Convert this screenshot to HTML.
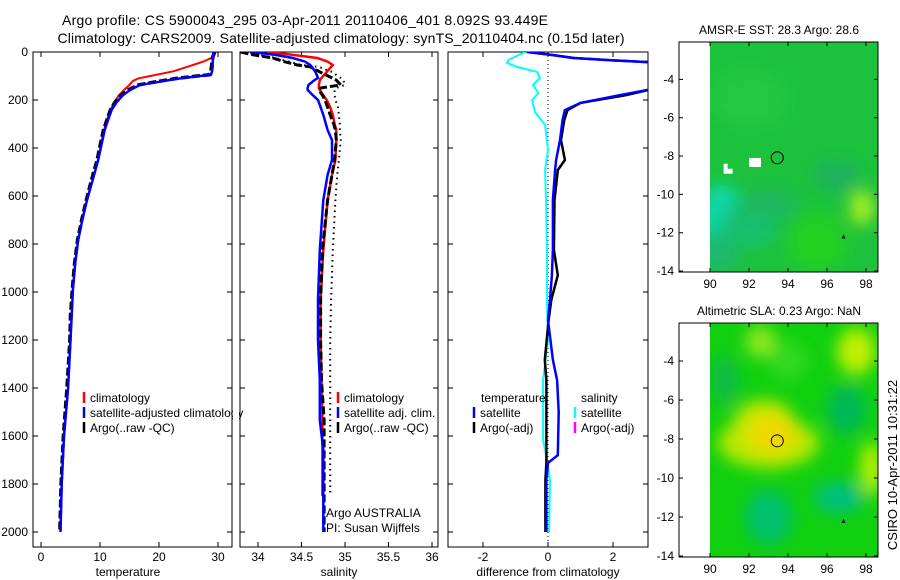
<!DOCTYPE html>
<html><head><meta charset="utf-8"><style>
html,body{margin:0;padding:0;background:#fff;}
svg{display:block;font-family:"Liberation Sans",sans-serif;}
text{fill:#000;}
</style></head><body>
<svg id="chart" width="900" height="580" viewBox="0 0 900 580" xmlns="http://www.w3.org/2000/svg">
<defs>
<clipPath id="c1"><rect x="33" y="52" width="199" height="495"/></clipPath>
<clipPath id="c2"><rect x="240" y="52" width="198" height="495"/></clipPath>
<clipPath id="c3"><rect x="448" y="52" width="200" height="495"/></clipPath>
<clipPath id="cm1"><rect x="710" y="42" width="168" height="230"/></clipPath>
<clipPath id="cm2"><rect x="710" y="323" width="168" height="234"/></clipPath>
<filter id="bl" x="-50%" y="-50%" width="200%" height="200%"><feGaussianBlur stdDeviation="8"/></filter>
</defs>
<text x="305" y="25" font-size="14" text-anchor="middle" textLength="486">Argo profile: CS 5900043_295 03-Apr-2011 20110406_401 8.092S 93.449E</text>
<text x="341" y="43" font-size="14" text-anchor="middle" textLength="567">Climatology: CARS2009. Satellite-adjusted climatology: synTS_20110404.nc (0.15d later)</text>
<g id="plots"></g>
<g id="maps"></g>
<text transform="translate(897,465) rotate(-90)" font-size="13" text-anchor="middle">CSIRO 10-Apr-2011 10:31:22</text>
</svg>
<script>
// ---------- data ----------
const depthT = [0,20,40,60,80,95,100,110,120,137,160,180,210,240,280,325,380,450,530,617,700,783,880,990,1100,1200,1400,1600,1800,2000];
const tempSat = [29.2,29.2,29.1,29.1,29.0,28.8,27,23.6,21,16.8,15,13.9,12.8,12,11.4,10.8,10.3,9.7,8.8,7.8,7.0,6.3,5.8,5.4,5.2,5.0,4.6,3.9,3.5,3.3];
const tempClim = [29.6,29.3,27.5,25,22.5,19.5,18.5,16.5,15.6,15.0,14.0,13.2,12.4,11.8,11.2,10.7,10.2,9.7,8.8,7.8,7.0,6.3,5.8,5.4,5.2,5.0,4.6,3.9,3.5,3.3];
const tempArgo = [29.4,29.1,29.0,28.9,28.8,28.5,26.5,23,20.5,16.5,14.6,13.6,12.5,11.8,11.2,10.6,10.1,9.5,8.6,7.7,6.9,6.2,5.7,5.3,5.0,4.9,4.4,3.8,3.4,3.2];
const tempTicks = [0,10,20,30];

const depthS = [0,12,25,40,54,62,83,108,117,137,150,158,180,200,230,262,300,325,367,450,512,617,825,1033,1200,1367,1533,1658,1850,2000];
const salSat = [33.93,34.2,34.4,34.54,34.6,34.62,34.66,34.69,34.65,34.58,34.57,34.57,34.63,34.69,34.72,34.75,34.78,34.80,34.85,34.85,34.80,34.75,34.71,34.69,34.69,34.71,34.71,34.75,34.75,34.75];
const salClim = [34.14,34.4,34.68,34.8,34.86,34.84,34.79,34.73,34.71,34.70,34.70,34.71,34.75,34.79,34.83,34.86,34.88,34.90,34.90,34.89,34.85,34.80,34.75,34.72,34.72,34.73,34.74,34.74,34.74,null];
const salArgo = [33.8,33.95,34.17,34.3,34.45,34.6,34.71,34.85,34.9,34.95,34.72,34.7,34.74,34.77,34.8,34.83,34.87,34.89,34.9,34.88,34.85,34.8,34.74,34.72,34.72,34.73,34.76,34.76,34.76,34.76];
const salArgoRaw = [33.85,34.0,34.2,34.35,34.5,34.7,34.85,34.95,34.98,35.0,34.9,34.88,34.88,34.89,34.92,34.93,34.94,34.94,34.95,34.93,34.91,34.89,34.86,34.84,34.83,34.83,34.83,34.83,34.83,null];
const salTicks = [34,34.5,35,35.5,36];

const depthD = [0,12,25,35,42,60,100,150,158,180,212,242,283,367,450,492,617,825,930,1033,1117,1283,1367,1500,1680,1712,1783,2000];
const diffTempSat = [-0.65,0.1,0.77,2.0,3.05,4.5,4.5,3.5,3.08,2.2,1.0,0.52,0.45,0.37,0.25,0.22,0.15,0.15,0.12,0.06,0.0,0.15,0.28,0.33,0.3,0.0,-0.05,-0.05];
const diffTempArgo = [-0.6,0.1,0.8,2.0,3.1,4.5,4.5,3.6,3.1,2.4,1.0,0.6,0.5,0.4,0.52,0.3,0.2,0.18,0.3,0.1,0.02,-0.1,-0.05,-0.05,-0.05,-0.05,-0.08,-0.08];
const depthDS = [0,33,46,62,83,108,137,171,200,250,304,408,492,617,825,1033,1200,1367,1617,1700,1783,2000];
const diffSalSat = [-0.7,-1.22,-1.26,-0.95,-0.34,-0.25,-0.46,-0.3,-0.49,-0.4,-0.09,0,-0.09,-0.06,-0.03,-0.03,0,-0.15,-0.15,-0.03,0.06,0.03];
const diffTicks = [-2,0,2];
const depthTicks = [0,200,400,600,800,1000,1200,1400,1600,1800,2000];

const lonTicks = [90,92,94,96,98];
const latTicks = [-4,-6,-8,-10,-12,-14];
const argoLon = 93.449, argoLat = -8.092;

// ---------- helpers ----------
const NS = "http://www.w3.org/2000/svg";
function mk(tag, attrs, parent){ const e=document.createElementNS(NS,tag); for(const k in attrs) e.setAttribute(k,attrs[k]); parent.appendChild(e); return e; }
const yD = d => 52 + d*0.24;
const xT = v => 41 + v*5.9;
const xS = v => 258 + (v-34)*87;
const xDf = v => 548 + v*32.5;
const plots = document.getElementById('plots');

function line(depths, vals, xf, color, w, dash, clip, name){
  let d=''; let pen=false;
  for(let i=0;i<depths.length;i++){ const v=vals[i]; if(v===null){pen=false;continue;}
    d += (pen?'L':'M') + xf(v).toFixed(1)+','+yD(depths[i]).toFixed(1); pen=true; }
  const p = mk('path',{d:d,fill:'none',stroke:color,'stroke-width':w,'clip-path':'url(#'+clip+')'},plots);
  if(dash) p.setAttribute('stroke-dasharray',dash);
  
  
}
function frame(x,w,ticks,xf,labels,title,tx,name,showY){
  const g = mk('g',{},plots);
  
  
  mk('rect',{x:x,y:52,width:w,height:495,fill:'none',stroke:'#000','stroke-width':1},g);
  ticks.forEach((t,i)=>{ const X=xf(t);
    mk('line',{x1:X,y1:52,x2:X,y2:57,stroke:'#000'},g);
    mk('line',{x1:X,y1:547,x2:X,y2:542,stroke:'#000'},g);
    const tl = mk('text',{x:X,y:561,'font-size':12,'text-anchor':'middle'},g); tl.textContent=labels[i];
    
    
  });
  depthTicks.forEach(d=>{ const Y=yD(d);
    mk('line',{x1:x,y1:Y,x2:x+5,y2:Y,stroke:'#000'},g);
    mk('line',{x1:x+w,y1:Y,x2:x+w-5,y2:Y,stroke:'#000'},g);
    if(showY){ const tl=mk('text',{x:28,y:Y+4,'font-size':12,'text-anchor':'end'},g); tl.textContent=d;
      
       }
  });
  const at = mk('text',{x:tx,y:576,'font-size':12,'text-anchor':'middle'},g); at.textContent=title;
  
  
}
function legend(x,y,color,label,name){
  const g=mk('g',{},plots);
  
  
  mk('line',{x1:x,y1:y-10,x2:x,y2:y+1,stroke:color,'stroke-width':2.5},g);
  const t=mk('text',{x:x+6,y:y,'font-size':12},g); t.textContent=label;
}

// ---------- temperature panel ----------
frame(33,199,tempTicks,xT,['0','10','20','30'],'temperature',128,'temperature-panel',true);
line(depthT,tempClim,xT,'#ff0000',2,null,'c1','temp-climatology-line');
line(depthT,tempArgo,xT,'#000',3.5,'8,3','c1','temp-argo-line');
line(depthT,tempSat,xT,'#0000ff',2.5,null,'c1','temp-satellite-line');
legend(84,402,'#ff0000','climatology','legend-climatology');
legend(84,417,'#0000ff','satellite-adjusted climatology','legend-satellite-adjusted');
legend(84,432,'#000','Argo(..raw -QC)','legend-argo');
mk('rect',{x:233,y:405,width:6,height:16,fill:'#fff'},plots);

// ---------- salinity panel ----------
frame(240,198,salTicks,xS,['34','34.5','35','35.5','36'],'salinity',339,'salinity-panel',false);
line(depthS,salArgoRaw,xS,'#000',2,'1.5,4','c2','sal-argo-raw-line');
line(depthS,salClim,xS,'#ff0000',2.5,null,'c2','sal-climatology-line');
line(depthS,salArgo,xS,'#000',3,'8,3','c2','sal-argo-line');
line(depthS,salSat,xS,'#0000ff',2.5,null,'c2','sal-satellite-line');
legend(338,402,'#ff0000','climatology','legend-sal-climatology');
legend(338,417,'#0000ff','satellite adj. clim.','legend-sal-satellite');
legend(338,432,'#000','Argo(..raw -QC)','legend-sal-argo');
let t=mk('text',{x:326,y:517,'font-size':12},plots); t.textContent='Argo AUSTRALIA';
 
t=mk('text',{x:326,y:532,'font-size':12},plots); t.textContent='PI: Susan Wijffels';
 

// ---------- difference panel ----------
frame(448,200,diffTicks,xDf,['-2','0','2'],'difference from climatology',548,'difference-panel',false);
mk('line',{x1:548,y1:52,x2:548,y2:547,stroke:'#000','stroke-width':1,'stroke-dasharray':'1,3'},plots);
line(depthDS,diffSalSat,xDf,'#00ffff',2,null,'c3','diff-salinity-satellite-line');
line(depthD,diffTempArgo,xDf,'#000',2.5,null,'c3','diff-temp-argo-line');
line(depthD,diffTempSat,xDf,'#0000ff',2.5,null,'c3','diff-temp-satellite-line');
t=mk('text',{x:481,y:402,'font-size':12},plots); t.textContent='temperature';
 
t=mk('text',{x:581,y:402,'font-size':12},plots); t.textContent='salinity';
 
legend(474,417,'#0000ff','satellite','legend-diff-temp-satellite');
legend(474,432,'#000','Argo(-adj)','legend-diff-temp-argo');
legend(575,417,'#00ffff','satellite','legend-diff-sal-satellite');
legend(575,432,'#ff00ff','Argo(-adj)','legend-diff-sal-argo');

// ---------- maps ----------
const maps = document.getElementById('maps');
function mapPanel(top,bottom,title,clip,base,blobs,name){
  const g=mk('g',{},maps);
  
  
  const latTop = -2.05, latBot = -14.05;
  const ly = lat => top + (latTop-lat)/(latTop-latBot)*(bottom-top);
  const lx = lon => 710 + (lon-90)*19.5;
  const ig=mk('g',{'clip-path':'url(#'+clip+')'},g);
  mk('rect',{x:710,y:top,width:170,height:bottom-top,fill:base},ig);
  const bg=mk('g',{filter:'url(#bl)'},ig);
  blobs.forEach(b=>{ mk('ellipse',{cx:lx(b[0]),cy:ly(b[1]),rx:b[2]*19.5,ry:b[3]*19.5,fill:b[4]},bg); });
  mk('rect',{x:679,y:top,width:199,height:bottom-top,fill:'none',stroke:'#000'},g);
  lonTicks.forEach(L=>{ const X=lx(L);
    mk('line',{x1:X,y1:top,x2:X,y2:top+4,stroke:'#000'},g);
    mk('line',{x1:X,y1:bottom,x2:X,y2:bottom-4,stroke:'#000'},g);
    const tl=mk('text',{x:X,y:bottom+16,'font-size':12,'text-anchor':'middle'},g); tl.textContent=L;
     
  });
  latTicks.forEach(L=>{ const Y=ly(L);
    mk('line',{x1:679,y1:Y,x2:683,y2:Y,stroke:'#000'},g);
    mk('line',{x1:878,y1:Y,x2:874,y2:Y,stroke:'#000'},g);
    const tl=mk('text',{x:674,y:Y+4,'font-size':12,'text-anchor':'end'},g); tl.textContent=L;
     
  });
  const tt=mk('text',{x:779,y:top-8,'font-size':12,'text-anchor':'middle'},g); tt.textContent=title;
   
  const c=mk('circle',{cx:lx(argoLon),cy:ly(argoLat),r:6,fill:'none',stroke:'#000','stroke-width':1},g);
   
  mk('path',{d:`M${lx(96.85)-2},${ly(-12.2)+2}l2,-4l2,4z`,fill:'#000'},g);
  return {lx,ly,g};
}
const m1 = mapPanel(42,272,'AMSR-E SST: 28.3  Argo: 28.6','cm1','#1cc23c',[
  [90.6,-11,1.0,1.5,'#10d8b0'],[92,-11.5,1.5,1.2,'#18c070'],[93,-10.5,1.5,0.8,'#1cb860'],
  [95.5,-12.5,1.5,1.5,'#22d022'],[97.8,-10.7,0.6,0.9,'#b0f020'],[96.5,-9,1.2,0.8,'#1ab060'],
  [92,-5,2,1.5,'#22c840'],[90.5,-13,1,1,'#1ab870']
],'sst-map');
mk('rect',{x:m1.lx(92),y:m1.ly(-8.1),width:12,height:9,fill:'#fff'},m1.g);
mk('path',{d:`M${m1.lx(90.7)},${m1.ly(-8.4)}h4v5h5v5h-9z`,fill:'#fff'},m1.g);
mapPanel(323,557,'Altimetric SLA: 0.23  Argo: NaN','cm2','#10d010',[
  [93,-8.2,2.6,1.3,'#b8e800'],[92.8,-7.3,1.6,1.3,'#c8e800'],[93.2,-7.8,1.2,1.0,'#f0d800'],[92.6,-3,0.8,0.8,'#90e820'],
  [97.5,-3.5,1.0,1.2,'#c0f000'],[98.3,-9.5,0.6,1.4,'#b8f000'],[93,-12,1.2,1.4,'#00c070'],
  [96.6,-11,1.3,0.8,'#00c080'],[97,-6.5,1,1.3,'#00b858'],[90.8,-5,0.6,1.3,'#10b850'],[94,-4,1,1,'#30d820']
],'sla-map');
</script>
</body></html>
